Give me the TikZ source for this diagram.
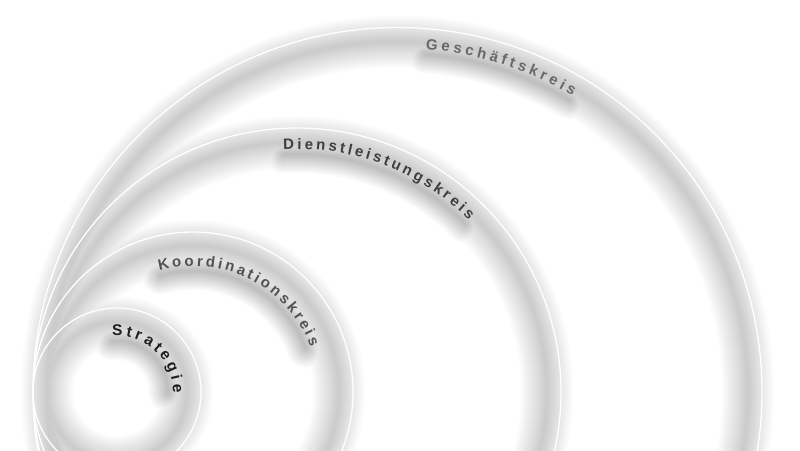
\documentclass[tikz,border=0pt]{standalone}
\usepackage{fontspec}
\setmainfont{Liberation Sans}
\usetikzlibrary{decorations.text}
\definecolor{gesgray}{HTML}{686868}
\definecolor{diegray}{HTML}{3E3E3E}
\definecolor{korgray}{HTML}{525252}
\definecolor{strgray}{HTML}{1E1E1E}

\begin{document}
\begin{tikzpicture}[%
x=1pt, y=1pt,
ring/.style={draw=white, line width=1.3pt},
haze/.style={blend mode=darken, draw=white!#1!black},
lbl/.style={decorate, decoration={text along path, text align=fit to path, text={#1}}}
]
\useasboundingbox (0,0) rectangle (800,450);
\clip (0,0) rectangle (800,450);
\fill[white] (0,0) rectangle (800,450);
\coordinate (ges) at (397.5,58);
\coordinate (die) at (297,58);
\coordinate (kor) at (193,58);
\coordinate (str) at (117,58);
% soft bands round the circles
\foreach \c/\r in {ges/364.5, die/264, kor/160, str/84}
  \foreach \w in {54,52,...,2} {
    \pgfmathsetmacro\g{80+20*(\w-2)/52}
    \draw[haze=\g, line width=\w pt] (\c) circle[radius=\r-14];
  }
% shadows under the labels
\foreach \c/\rb/\a/\b in {ges/339/85.3/59.4, die/238/93.2/45, kor/121/105.5/21, str/51/95/-1}
  \foreach \w in {40,38,...,2} {
    \pgfmathsetmacro\g{75+25*(\w-2)/38}
    \draw[haze=\g, line width=\w pt, line cap=round] (\c) ++(\a:\rb) arc[start angle=\a, end angle=\b, radius=\rb];
  }
% circles
\draw[ring] (ges) circle[radius=364.5];
\draw[ring] (die) circle[radius=264];
\draw[ring] (kor) circle[radius=160];
\draw[ring] (str) circle[radius=84];
% labels
\path[lbl={|\bfseries\fontsize{15}{17}\selectfont\color{gesgray}|Geschäftskreis}]
  (ges) ++(85.3:344) arc[start angle=85.3, end angle=59.4, radius=344];
\path[lbl={|\bfseries\fontsize{15}{17}\selectfont\color{diegray}|Dienstleistungskreis}]
  (die) ++(93.2:243) arc[start angle=93.2, end angle=45, radius=243];
\path[lbl={|\bfseries\fontsize{15}{17}\selectfont\color{korgray}|Koordinationskreis}]
  (kor) ++(105.5:126) arc[start angle=105.5, end angle=21, radius=126];
\path[lbl={|\bfseries\fontsize{15.5}{17}\selectfont\color{strgray}|Strategie}]
  (str) ++(95:56) arc[start angle=95, end angle=-1, radius=56];
\end{tikzpicture}
\end{document}
